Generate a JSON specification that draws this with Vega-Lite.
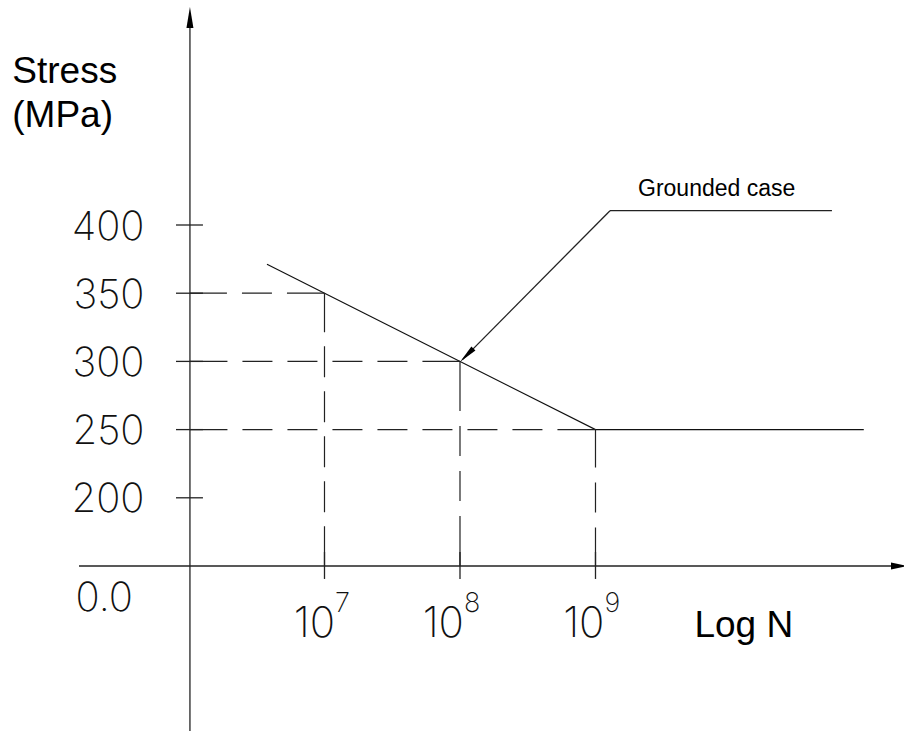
{
  "$schema": "https://vega.github.io/schema/vega-lite/v6.json",
  "width": 904,
  "height": 731,
  "padding": 0,
  "autosize": {"type": "none"},
  "background": "white",
  "config": {"view": {"stroke": null}},
  "datasets": {
    "solid": [
      {"x": 6.007, "y": 29.03, "x2": 6.007, "y2": 548},
      {"x": 5.188, "y": 150, "x2": 11.196, "y2": 150},
      {"x": 5.904, "y": 400, "x2": 6.103, "y2": 400},
      {"x": 5.904, "y": 350, "x2": 6.103, "y2": 350},
      {"x": 5.904, "y": 300, "x2": 6.103, "y2": 300},
      {"x": 5.904, "y": 250, "x2": 6.103, "y2": 250},
      {"x": 5.904, "y": 200, "x2": 6.103, "y2": 200},
      {"x": 7, "y": 140.5, "x2": 7, "y2": 160.3},
      {"x": 8, "y": 140.5, "x2": 8, "y2": 160.3},
      {"x": 9, "y": 140.5, "x2": 9, "y2": 160.3},
      {"x": 10.745, "y": 410.5, "x2": 9.107, "y2": 410.5},
      {"x": 9.107, "y": 410.5, "x2": 8.02, "y2": 301.5}
    ],
    "curve": [
      {"x": 6.5756, "y": 371.2},
      {"x": 9, "y": 250},
      {"x": 10.98, "y": 250}
    ],
    "dashed": [
      {"id": "h350", "x": 6.007, "y": 350, "x2": 7, "y2": 350},
      {"id": "h300", "x": 6.007, "y": 300, "x2": 8, "y2": 300},
      {"id": "h250", "x": 6.007, "y": 250, "x2": 9, "y2": 250},
      {"id": "v7", "x": 7, "y": 350, "x2": 7, "y2": 150},
      {"id": "v8", "x": 8, "y": 300, "x2": 8, "y2": 150},
      {"id": "v9", "x": 9, "y": 250, "x2": 9, "y2": 150}
    ],
    "arrows": [
      {"id": "top", "x": 6.007, "y": 552.1},
      {"id": "right", "x": 11.2399, "y": 150},
      {"id": "lead", "x": 8.0494, "y": 304.5}
    ],
    "ylabels": [
      {"x": 5.6716, "y": 400, "t": "400"},
      {"x": 5.6716, "y": 350, "t": "350"},
      {"x": 5.6716, "y": 300, "t": "300"},
      {"x": 5.6716, "y": 250, "t": "250"},
      {"x": 5.6716, "y": 200, "t": "200"}
    ],
    "zero": [{"x": 5.1624, "y": 117, "t": "0.0"}],
    "xbase": [
      {"x": 7.0775, "y": 97.9, "t": "10"},
      {"x": 8.0295, "y": 97.9, "t": "10"},
      {"x": 9.0664, "y": 97.9, "t": "10"}
    ],
    "xsup": [
      {"x": 7.0775, "y": 116.3, "t": "7"},
      {"x": 8.0295, "y": 116.3, "t": "8"},
      {"x": 9.0664, "y": 116.3, "t": "9"}
    ],
    "titles": [
      {"x": 4.696, "y": 504.1, "t": "Stress"},
      {"x": 4.696, "y": 471.5, "t": "(MPa)"},
      {"x": 9.73, "y": 97.9, "t": "Log N"}
    ],
    "note": [{"x": 9.3137, "y": 421.3, "t": "Grounded case"}]
  },
  "encoding": {
    "x": {"field": "x", "type": "quantitative", "scale": {"domain": [4.6052, 11.2768], "nice": false, "zero": false}, "axis": null},
    "y": {"field": "y", "type": "quantitative", "scale": {"domain": [29.03, 564.96], "nice": false, "zero": false}, "axis": null}
  },
  "layer": [
    {
      "data": {"name": "solid"},
      "mark": {"type": "rule", "color": "#222", "strokeWidth": 1.3},
      "encoding": {"x2": {"field": "x2"}, "y2": {"field": "y2"}}
    },
    {
      "data": {"name": "curve"},
      "mark": {"type": "line", "color": "#111", "strokeWidth": 1.2},
      "encoding": {"order": {"field": "x", "type": "quantitative"}}
    },
    {
      "data": {"name": "dashed"},
      "transform": [{"filter": "datum.id == 'h350'"}],
      "mark": {"type": "rule", "color": "#222", "strokeWidth": 1.2, "strokeDash": [37, 15, 30, 15, 37.5, 100]},
      "encoding": {"x2": {"field": "x2"}, "y2": {"field": "y2"}}
    },
    {
      "data": {"name": "dashed"},
      "transform": [{"filter": "datum.id == 'h300'"}],
      "mark": {"type": "rule", "color": "#222", "strokeWidth": 1.2, "strokeDash": [37.5, 15, 30, 15, 30, 15, 30, 15, 30, 15, 38.5, 100]},
      "encoding": {"x2": {"field": "x2"}, "y2": {"field": "y2"}}
    },
    {
      "data": {"name": "dashed"},
      "transform": [{"filter": "datum.id == 'h250'"}],
      "mark": {"type": "rule", "color": "#222", "strokeWidth": 1.2, "strokeDash": [37.5, 15, 30, 15, 30, 15, 30, 15, 30, 15, 30, 15, 30, 15, 30, 15, 39, 100]},
      "encoding": {"x2": {"field": "x2"}, "y2": {"field": "y2"}}
    },
    {
      "data": {"name": "dashed"},
      "transform": [{"filter": "datum.id == 'v7'"}],
      "mark": {"type": "rule", "color": "#222", "strokeWidth": 1.2, "strokeDash": [39, 14, 31, 14, 31, 14, 31, 14, 31, 14, 40, 100]},
      "encoding": {"x2": {"field": "x2"}, "y2": {"field": "y2"}}
    },
    {
      "data": {"name": "dashed"},
      "transform": [{"filter": "datum.id == 'v8'"}],
      "mark": {"type": "rule", "color": "#222", "strokeWidth": 1.2, "strokeDash": [49.5, 15, 30, 15, 30, 15, 50, 100]},
      "encoding": {"x2": {"field": "x2"}, "y2": {"field": "y2"}}
    },
    {
      "data": {"name": "dashed"},
      "transform": [{"filter": "datum.id == 'v9'"}],
      "mark": {"type": "rule", "color": "#222", "strokeWidth": 1.2, "strokeDash": [38, 15, 30, 15, 39, 100]},
      "encoding": {"x2": {"field": "x2"}, "y2": {"field": "y2"}}
    },
    {
      "data": {"name": "arrows"},
      "transform": [{"filter": "datum.id == 'top'"}],
      "mark": {"type": "point", "shape": "M0,-1L0.333,1L-0.333,1Z", "size": 441, "filled": true, "color": "#000", "opacity": 1}
    },
    {
      "data": {"name": "arrows"},
      "transform": [{"filter": "datum.id == 'right'"}],
      "mark": {"type": "point", "shape": "M1,0L-1,-0.45L-1,0.45Z", "size": 256, "filled": true, "color": "#000", "opacity": 1}
    },
    {
      "data": {"name": "arrows"},
      "transform": [{"filter": "datum.id == 'lead'"}],
      "mark": {"type": "point", "shape": "M0,-1L0.3,1L-0.3,1Z", "size": 361, "angle": 225, "filled": true, "color": "#000", "opacity": 1}
    },
    {
      "data": {"name": "ylabels"},
      "mark": {"type": "text", "align": "right", "baseline": "alphabetic", "dy": 14.5, "font": "Inter", "fontWeight": 200, "fontSize": 40, "color": "#111"},
      "encoding": {"text": {"field": "t"}}
    },
    {
      "data": {"name": "zero"},
      "mark": {"type": "text", "align": "left", "baseline": "alphabetic", "font": "Inter", "fontWeight": 200, "fontSize": 40, "color": "#111"},
      "encoding": {"text": {"field": "t"}}
    },
    {
      "data": {"name": "xbase"},
      "mark": {"type": "text", "align": "right", "baseline": "alphabetic", "font": "Inter", "fontWeight": 200, "fontSize": 42, "color": "#111"},
      "encoding": {"text": {"field": "t"}}
    },
    {
      "data": {"name": "xsup"},
      "mark": {"type": "text", "align": "left", "baseline": "alphabetic", "font": "Inter", "fontWeight": 200, "fontSize": 27, "color": "#111"},
      "encoding": {"text": {"field": "t"}}
    },
    {
      "data": {"name": "titles"},
      "mark": {"type": "text", "align": "left", "baseline": "alphabetic", "font": "Liberation Sans", "fontSize": 37, "color": "#000"},
      "encoding": {"text": {"field": "t"}}
    },
    {
      "data": {"name": "note"},
      "mark": {"type": "text", "align": "left", "baseline": "alphabetic", "font": "Liberation Sans", "fontSize": 23, "color": "#000"},
      "encoding": {"text": {"field": "t"}}
    }
  ]
}
